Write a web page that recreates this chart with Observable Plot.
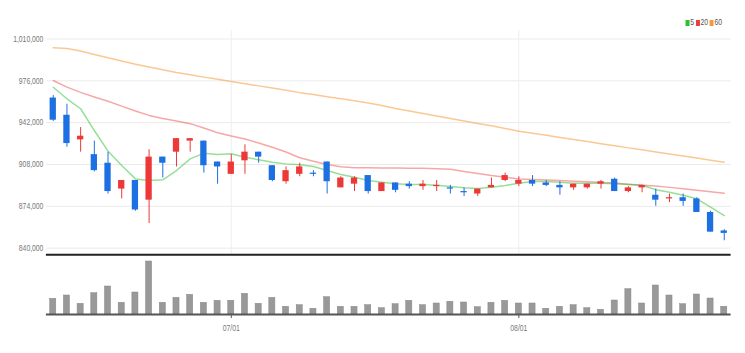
<!DOCTYPE html>
<html><head><meta charset="utf-8">
<script src="https://cdn.jsdelivr.net/npm/d3@7"></script>
<script src="https://cdn.jsdelivr.net/npm/@observablehq/plot@0.6"></script>
<style>
body{margin:0;background:#fff;}
#wrap{position:relative;width:745px;height:353px;overflow:hidden;font-family:'Liberation Sans',Arial,sans-serif;}
#price{position:absolute;left:0;top:0;}
#vol{position:absolute;left:0;top:258px;}
#legend{position:absolute;top:17px;right:21px;font-size:8.5px;line-height:10px;color:#555;white-space:nowrap;transform:scaleX(0.8);transform-origin:right center;}
#legend span.item{margin-right:2px;}
#legend i{display:inline-block;width:5px;height:6px;margin-right:1px;vertical-align:-1px;}
</style></head><body>
<div id="wrap"><div id="price"></div><div id="vol"></div><div id="legend"></div></div>
<script>
const dates = ["06/14","06/15","06/16","06/17","06/20","06/21","06/22","06/23","06/24","06/27","06/28","06/29","06/30",
"07/01","07/04","07/05","07/06","07/07","07/08","07/11","07/12","07/13","07/14","07/15","07/18","07/19","07/20","07/21","07/22","07/25","07/26","07/27","07/28","07/29",
"08/01","08/02","08/03","08/04","08/05","08/08","08/09","08/10","08/11","08/12","08/16","08/17","08/18","08/19","08/22","08/23"];
const open  = [962000,948000,928000,916000,909000,888000,895000,879000,914000,918000,927000,927000,910000,900000,911000,918000,907000,894000,900000,901000,910000,889000,892000,899000,886000,893000,892000,890000,890000,889000,886000,884000,889000,895000,892000,895000,893000,891000,889000,889000,892000,896000,886000,889000,883000,880000,881000,880000,869000,854000];
const high  = [964000,957000,938000,927000,918000,895000,895000,920000,914000,929000,929000,927000,910000,916000,924000,918000,907000,906000,909000,903000,910000,898000,898000,899000,893000,893000,894000,895000,895000,891000,889000,888000,897000,901000,898000,899000,895000,894000,892000,892000,895000,897000,890000,891000,888000,884000,884000,881000,870000,855000];
const low   = [943000,922000,918000,902000,884000,880000,870000,860000,897000,906000,918000,901000,892000,900000,900000,909000,894000,892000,898000,898000,884000,889000,886000,884000,886000,885000,888000,887000,886000,884000,882000,882000,889000,894000,890000,890000,890000,883000,887000,888000,888000,886000,885000,885000,874000,877000,874000,869000,853000,846000];
const close = [944000,925000,931000,903000,886000,895000,871000,914000,909000,929000,929000,907000,906000,910000,918000,914000,895000,903000,906000,900000,894000,897000,897000,886000,893000,887000,890000,892000,891000,888000,885000,888000,891000,899000,895000,892000,891000,889000,892000,892000,894000,886000,889000,891000,879000,881000,878000,869000,853000,852000];
const volume = [157000,190000,107000,213000,280000,117000,220000,530000,117000,167000,197000,117000,137000,137000,207000,107000,167000,77000,93000,57000,173000,77000,77000,93000,63000,103000,137000,93000,110000,127000,120000,73000,117000,137000,110000,110000,57000,77000,93000,63000,47000,140000,253000,110000,290000,190000,103000,200000,160000,77000];
const ma5  = [970800,961400,953300,935600,918800,907200,896300,895000,895500,903100,912600,917200,916100,916700,913900,911800,909800,908500,907700,906300,903100,899800,897600,895000,893600,892300,891700,891700,891100,890100,889000,888500,889500,890900,892800,894100,894100,893500,892800,892800,892800,892300,891700,891100,887400,885400,883000,880100,873300,866500];
const ma20 = [976300,970900,966600,962900,959400,955400,951500,947900,945300,943400,941200,937600,933800,931100,928700,925400,922000,918200,913500,910700,908000,906200,905300,905300,905100,905200,905000,904900,904600,904100,902300,900700,899000,897600,896300,895900,895400,895000,894400,893900,893400,892900,892000,891200,890500,889400,888300,887100,885900,884600];
const ma60 = [1002800,1002200,1000200,997400,994700,992100,989500,987200,985000,982800,980900,979000,977200,975400,973700,971900,970100,968300,966400,964800,963100,961400,959800,958000,955900,953500,951400,949400,947400,945400,943400,941400,939400,937200,935100,933400,931700,930000,928300,926600,924900,923300,921500,919900,918200,916600,914900,913200,911500,909800];
const yTicks = [840000,874000,908000,942000,976000,1010000];
const xTicks = ["07/01","08/01"];
const priceDomain = [834600, 1016900];
const volDomain = [0, 560000];
const maNames = ["5","20","60"];
const maColors = ["#2fbf2f","#ee3b3b","#f59a3c"];
const upColor = "#ee3838", downColor = "#1c70e2";

const rows = dates.map((d,i)=>({date:d, open:open[i], high:high[i], low:low[i], close:close[i], volume:volume[i], ma5:ma5[i], ma20:ma20[i], ma60:ma60[i], col: close[i] >= open[i] ? upColor : downColor}));
const font = "'Liberation Sans',Arial,sans-serif";

function narrow(svg, k) {
  svg.querySelectorAll("text").forEach(t => {
    const tr = t.getAttribute("transform");
    if (tr) { t.setAttribute("transform", tr + ` scale(${k},1)`); }
    else {
      const x = +(t.getAttribute("x")||0), y = +(t.getAttribute("y")||0);
      t.removeAttribute("x"); t.removeAttribute("y");
      t.setAttribute("transform", `translate(${x},${y}) scale(${k},1)`);
    }
  });
}

const price = Plot.plot({
  width:745, height:258, marginLeft:45.9, marginRight:14.4, marginTop:30, marginBottom:3.7,
  style:{fontFamily:font, fontSize:"8.5px", color:"#777", background:"transparent"},
  x:{type:"band", domain:dates, padding:0, axis:null, label:null},
  y:{domain:priceDomain, axis:null, label:null},
  marks:[
    Plot.ruleY(yTicks, {stroke:"#ebebeb", strokeWidth:1}),
    Plot.ruleX(xTicks, {stroke:"#eeeeee", strokeWidth:1}),
    Plot.axisY(yTicks, {tickSize:0, tickPadding:3, tickFormat:d3.format(","), fill:"#777", fontSize:8.5, label:null}),
    Plot.lineY(rows, {x:"date", y:"ma60", stroke:maColors[2], strokeWidth:1.5, strokeOpacity:0.55}),
    Plot.lineY(rows, {x:"date", y:"ma20", stroke:maColors[1], strokeWidth:1.5, strokeOpacity:0.45}),
    Plot.lineY(rows, {x:"date", y:"ma5", stroke:maColors[0], strokeWidth:1.5, strokeOpacity:0.5}),
    Plot.ruleX(rows, {x:"date", y1:"low", y2:"high", stroke:"col", strokeWidth:1}),
    Plot.barY(rows, {x:"date", y1:"open", y2:"close", fill:"col", insetLeft:3.7, insetRight:3.7}),
    Plot.ruleY([priceDomain[0]], {stroke:"#222", strokeWidth:2})
  ]
});
narrow(price, 0.8);
document.getElementById("price").appendChild(price);

const vol = Plot.plot({
  width:745, height:95, marginLeft:45.9, marginRight:14.4, marginTop:0, marginBottom:39,
  style:{fontFamily:font, fontSize:"8.5px", color:"#777", background:"transparent"},
  x:{type:"band", domain:dates, padding:0, axis:null, label:null},
  y:{domain:volDomain, axis:null, label:null},
  marks:[
    Plot.barY(rows, {x:"date", y:"volume", fill:"#999", stroke:"#888", strokeWidth:0.5, insetLeft:3.8, insetRight:3.8}),
    Plot.ruleY([0], {stroke:"#555", strokeWidth:2}),
    Plot.axisX(xTicks, {tickSize:4, tickPadding:6, stroke:"#555", fill:"#777", fontSize:8.5, label:null})
  ]
});
narrow(vol, 0.8);
document.getElementById("vol").appendChild(vol);

const lg = document.getElementById("legend");
maNames.forEach((n,i)=>{
  const s = document.createElement("span"); s.className="item";
  s.innerHTML = `<i style="background:${maColors[i]}"></i>${n}`;
  lg.appendChild(s);
});
</script>
</body></html>
